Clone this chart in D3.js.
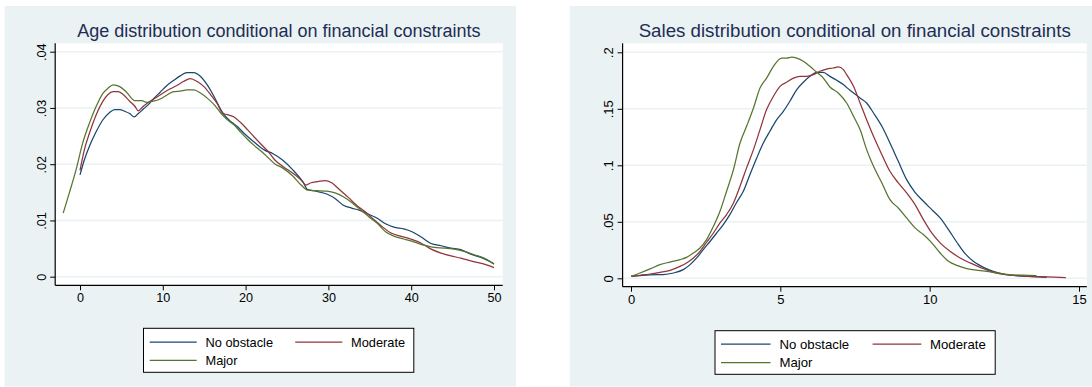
<!DOCTYPE html>
<html>
<head>
<meta charset="utf-8">
<script src="https://cdn.jsdelivr.net/npm/d3@7/dist/d3.min.js"></script>
<style>
  body { margin: 0; background: #ffffff; }
  svg { display: block; }
  text { font-family: "Liberation Sans", Arial, Helvetica, sans-serif; }
</style>
</head>
<body>
<svg id="chart" width="1092" height="387"></svg>
<script>
// Series labels and colours (Stata s2color: navy, maroon, forest green)
const seriesNames = ["No obstacle", "Moderate", "Major"];
const seriesColors = ["#1a476f", "#90353b", "#55752f"];

// Tick values
const ageTicksX = [0, 10, 20, 30, 40, 50];
const ageTicksY = [0, 0.01, 0.02, 0.03, 0.04];
const salesTicksX = [0, 5, 10, 15];
const salesTicksY = [0, 0.05, 0.1, 0.15, 0.2];

// Kernel density of firm age, by severity of financial obstacle: [age, density]
const ageNoObstacle = [[0,0.0181],[0.53,0.0208],[1.14,0.0232],[1.96,0.0258],[2.77,0.0279],[3.58,0.0292],[4.19,0.0297],[4.8,0.0297],[5.41,0.0294],[6.0,0.0290],[6.55,0.0284],[7.04,0.0290],[7.65,0.0298],[8.26,0.0306],[8.86,0.0316],[9.68,0.0328],[10.5,0.0340],[11.3,0.0349],[12.1,0.0357],[12.93,0.0363],[13.74,0.0363],[14.56,0.0356],[15.37,0.0341],[16.2,0.0320],[17.0,0.0297],[17.4,0.0288],[18.2,0.0276],[19.0,0.0267],[19.8,0.0255],[21.06,0.0239],[22.3,0.0225],[23.26,0.0219],[24.5,0.0207],[25.7,0.0190],[26.9,0.0169],[27.5,0.0155],[28.5,0.0152],[29.8,0.0147],[30.8,0.0139],[31.8,0.0127],[32.8,0.0122],[33.8,0.0118],[34.85,0.0111],[35.9,0.0104],[36.9,0.0094],[37.9,0.0088],[39.1,0.0085],[40.1,0.0080],[41.15,0.0071],[42.4,0.0059],[43.6,0.0055],[44.8,0.0051],[46.0,0.0048],[47.2,0.0040],[48.5,0.0034],[49.1,0.0030],[50,0.0023]];
const ageModerate = [[0,0.0189],[0.53,0.0226],[1.14,0.0255],[1.96,0.0288],[2.77,0.0312],[3.38,0.0324],[3.99,0.0329],[4.6,0.0329],[5.2,0.0324],[6.0,0.0312],[6.63,0.0303],[7.04,0.0295],[7.65,0.0303],[8.46,0.0312],[9.27,0.0319],[10.08,0.0327],[10.9,0.0334],[11.7,0.0340],[12.5,0.0347],[13.3,0.0352],[14.15,0.0347],[14.97,0.0338],[15.8,0.0323],[16.6,0.0307],[17.2,0.0291],[17.8,0.0288],[18.6,0.0284],[19.4,0.0274],[20.25,0.0261],[21.06,0.0248],[21.9,0.0235],[22.7,0.0223],[23.5,0.0208],[24.5,0.0196],[25.7,0.0184],[26.7,0.0172],[27.3,0.0163],[27.9,0.0167],[28.7,0.0169],[29.6,0.0171],[30.4,0.0167],[31.4,0.0154],[32.4,0.0141],[33.4,0.0127],[34.4,0.0116],[35.45,0.0102],[36.5,0.0089],[37.5,0.0078],[38.7,0.0072],[39.9,0.0067],[41.15,0.0060],[42.4,0.0049],[43.6,0.0042],[44.8,0.0037],[46.0,0.0033],[47.2,0.0028],[49.1,0.0021],[50,0.0016]];
const ageMajor = [[-2.03,0.0113],[-1.29,0.0149],[-0.48,0.0190],[0.33,0.0238],[1.14,0.0273],[1.96,0.0303],[2.77,0.0326],[3.38,0.0335],[3.99,0.0341],[4.8,0.0338],[5.62,0.0328],[6.63,0.0313],[7.44,0.0313],[8.05,0.0310],[8.86,0.0312],[9.68,0.0316],[10.5,0.0323],[11.3,0.0329],[12.1,0.0330],[12.93,0.0332],[13.74,0.0332],[14.6,0.0326],[15.4,0.0317],[16.2,0.0306],[17.0,0.0291],[17.8,0.0279],[18.6,0.0270],[19.4,0.0257],[20.25,0.0244],[21.06,0.0233],[21.9,0.0223],[22.7,0.0212],[23.5,0.0201],[24.5,0.0193],[25.7,0.0179],[26.7,0.0163],[27.5,0.0154],[28.5,0.0153],[29.8,0.0152],[30.8,0.0149],[31.8,0.0142],[32.8,0.0132],[33.8,0.0120],[34.85,0.0107],[35.9,0.0095],[36.9,0.0080],[37.9,0.0072],[39.1,0.0067],[40.3,0.0062],[41.55,0.0056],[42.8,0.0052],[44.0,0.0051],[45.2,0.0049],[46.4,0.0045],[47.6,0.0039],[49.1,0.0031],[50,0.0022]];

// Kernel density of log sales, by severity of financial obstacle: [log sales, density]
const salesNoObstacle = [[0,0.0018],[0.3,0.0024],[0.64,0.0030],[1.08,0.0033],[1.42,0.0047],[1.75,0.0077],[1.98,0.0121],[2.2,0.0180],[2.42,0.0254],[2.65,0.0328],[2.87,0.0401],[3.09,0.0475],[3.31,0.0564],[3.54,0.0673],[3.76,0.0770],[3.98,0.0917],[4.21,0.1065],[4.43,0.1197],[4.65,0.1301],[4.88,0.1404],[5.1,0.1478],[5.32,0.1567],[5.55,0.1670],[5.77,0.1735],[5.99,0.1787],[6.22,0.1823],[6.44,0.1823],[6.66,0.1787],[6.89,0.1752],[7.11,0.1714],[7.33,0.1664],[7.45,0.1640],[7.67,0.1596],[7.89,0.1551],[8.12,0.1463],[8.4,0.1345],[8.67,0.1197],[8.95,0.1035],[9.23,0.0873],[9.51,0.0761],[9.79,0.0682],[10.07,0.0608],[10.35,0.0534],[10.63,0.0431],[10.91,0.0319],[11.19,0.0218],[11.46,0.0150],[11.8,0.0097],[12.13,0.0062],[12.47,0.0038],[12.92,0.0024],[13.47,0.0015],[13.92,0.0009]];
const salesModerate = [[0,0.0018],[0.3,0.0027],[0.64,0.0038],[0.97,0.0053],[1.31,0.0071],[1.64,0.0106],[1.86,0.0136],[2.09,0.0180],[2.31,0.0239],[2.53,0.0319],[2.76,0.0401],[2.98,0.0490],[3.2,0.0564],[3.43,0.0667],[3.65,0.0815],[3.87,0.0977],[4.1,0.1139],[4.32,0.1316],[4.54,0.1493],[4.77,0.1611],[4.99,0.1699],[5.21,0.1735],[5.44,0.1772],[5.66,0.1787],[5.88,0.1787],[6.1,0.1802],[6.32,0.1832],[6.55,0.1852],[6.77,0.1861],[6.94,0.1870],[7.11,0.1847],[7.22,0.1802],[7.45,0.1699],[7.67,0.1551],[7.89,0.1404],[8.12,0.1257],[8.4,0.1094],[8.67,0.0947],[8.95,0.0844],[9.23,0.0755],[9.51,0.0652],[9.79,0.0519],[10.07,0.0401],[10.35,0.0313],[10.68,0.0239],[11.02,0.0180],[11.35,0.0136],[11.69,0.0097],[12.02,0.0062],[12.36,0.0038],[12.69,0.0027],[13.25,0.0018],[13.92,0.0012],[14.56,0.0006]];
const salesMajor = [[0,0.0018],[0.3,0.0047],[0.64,0.0083],[0.97,0.0121],[1.31,0.0144],[1.64,0.0165],[1.86,0.0185],[2.09,0.0224],[2.31,0.0268],[2.53,0.0342],[2.76,0.0460],[2.98,0.0593],[3.2,0.0770],[3.43,0.0961],[3.65,0.1197],[3.87,0.1345],[4.1,0.1507],[4.32,0.1684],[4.54,0.1772],[4.77,0.1876],[5.04,0.1949],[5.21,0.1949],[5.38,0.1958],[5.55,0.1949],[5.77,0.1920],[5.99,0.1876],[6.22,0.1823],[6.44,0.1772],[6.66,0.1693],[6.94,0.1640],[7.22,0.1551],[7.45,0.1434],[7.67,0.1316],[7.89,0.1139],[8.12,0.0991],[8.4,0.0844],[8.67,0.0696],[8.95,0.0622],[9.23,0.0534],[9.51,0.0446],[9.79,0.0387],[10.07,0.0313],[10.35,0.0224],[10.63,0.0150],[10.91,0.0115],[11.24,0.0086],[11.69,0.0068],[12.13,0.0053],[12.58,0.0035],[13.14,0.0027],[13.58,0.0024]];

// Panel layouts
const panels = [
  {
    title: "Age distribution conditional on financial constraints",
    series: [ageNoObstacle, ageModerate, ageMajor],
    ticksX: ageTicksX, ticksY: ageTicksY,
    domainX: [0, 50], domainY: [0, 0.04],
    rangeX: [80, 494], rangeY: [276.7, 51.7],
    bg: [4.6, 6, 516, 386.5],
    plot: [55.2, 43.3, 502.7, 285.3],
    titleSize: 18, titleY: 36.5,
    tickSize: 12.6, yLabelX: 41.7, xLabelY: 298.5,
    legend: { box: [143.5, 328.3, 413.8, 372.3], keys: [[149.7, 196.7], [295.2, 342.3]], textX: [205.5, 351], rows: [342, 360.3], size: 12.8 }
  },
  {
    title: "Sales distribution conditional on financial constraints",
    series: [salesNoObstacle, salesModerate, salesMajor],
    ticksX: salesTicksX, ticksY: salesTicksY,
    domainX: [0, 15], domainY: [0, 0.2],
    rangeX: [631, 1079], rangeY: [278.3, 52.3],
    bg: [569.7, 6, 1092, 386.5],
    plot: [622.6, 43.3, 1086.8, 286.7],
    titleSize: 18.7, titleY: 36.5,
    tickSize: 13, yLabelX: 608.7, xLabelY: 300,
    legend: { box: [715, 330.7, 995.2, 374.3], keys: [[721, 770.5], [872.6, 921.3]], textX: [779.5, 930], rows: [344, 362.7], size: 13.2 }
  }
];

const svg = d3.select("#chart");
const gridColor = "#eaf2f3";
const tickFormat = d => d === 0 ? "0" : String(d).replace(/^0/, "");

panels.forEach(p => {
  const g = svg.append("g");
  const x = d3.scaleLinear().domain(p.domainX).range(p.rangeX);
  const y = d3.scaleLinear().domain(p.domainY).range(p.rangeY);
  const [px0, py0, px1, py1] = p.plot;

  // Graph background and plot region
  g.append("rect").attr("x", p.bg[0]).attr("y", p.bg[1])
    .attr("width", p.bg[2] - p.bg[0]).attr("height", p.bg[3] - p.bg[1])
    .attr("fill", gridColor);
  g.append("rect").attr("x", px0).attr("y", py0)
    .attr("width", px1 - px0).attr("height", py1 - py0).attr("fill", "#ffffff");

  // Horizontal grid lines
  g.selectAll(".grid").data(p.ticksY).join("line")
    .attr("x1", px0).attr("x2", px1)
    .attr("y1", d => y(d)).attr("y2", d => y(d))
    .attr("stroke", gridColor).attr("stroke-width", 1.6);

  // Title
  g.append("text").attr("x", (px0 + px1) / 2).attr("y", p.titleY)
    .attr("text-anchor", "middle").attr("font-size", p.titleSize)
    .attr("fill", "#1e2d55").text(p.title);

  // Density curves
  const line = d3.line().x(d => x(d[0])).y(d => y(d[1])).curve(d3.curveMonotoneX);
  p.series.forEach((s, i) => {
    g.append("path").datum(s).attr("d", line)
      .attr("fill", "none").attr("stroke", seriesColors[i])
      .attr("stroke-width", 1.25).attr("stroke-linejoin", "round");
  });

  // Y axis: line, ticks and rotated labels
  const yAxis = g.append("g").attr("transform", `translate(${px0},0)`)
    .call(d3.axisLeft(y).tickValues(p.ticksY).tickSize(5).tickPadding(4).tickFormat(tickFormat));
  yAxis.select(".domain").attr("d", `M0,${py0}V${py1}`).attr("stroke", "#000").attr("stroke-width", 1.2);
  yAxis.selectAll(".tick line").attr("stroke", "#000").attr("stroke-width", 1);
  yAxis.selectAll(".tick text")
    .attr("x", null).attr("dy", null)
    .attr("text-anchor", "middle").attr("dominant-baseline", "central")
    .attr("font-size", p.tickSize).attr("font-family", null).attr("fill", "#000")
    .attr("transform", `translate(${p.yLabelX - px0},0) rotate(-90)`);

  // X axis
  const xAxis = g.append("g").attr("transform", `translate(0,${py1})`)
    .call(d3.axisBottom(x).tickValues(p.ticksX).tickSize(5).tickFormat(d3.format("d")));
  xAxis.select(".domain").attr("d", `M${px0},0H${px1}`).attr("stroke", "#000").attr("stroke-width", 1.2);
  xAxis.selectAll(".tick line").attr("stroke", "#000").attr("stroke-width", 1);
  xAxis.selectAll(".tick text")
    .attr("y", p.xLabelY - py1).attr("dy", null).attr("dominant-baseline", "central")
    .attr("font-size", p.tickSize).attr("font-family", null).attr("fill", "#000");

  // Legend
  const L = p.legend;
  const lg = g.append("g");
  lg.append("rect").attr("x", L.box[0]).attr("y", L.box[1])
    .attr("width", L.box[2] - L.box[0]).attr("height", L.box[3] - L.box[1])
    .attr("fill", "#fff").attr("stroke", "#000").attr("stroke-width", 1);
  seriesNames.forEach((name, i) => {
    const col = i % 2, row = Math.floor(i / 2);
    const yy = L.rows[row];
    lg.append("line").attr("x1", L.keys[col][0]).attr("x2", L.keys[col][1])
      .attr("y1", yy).attr("y2", yy).attr("stroke", seriesColors[i]).attr("stroke-width", 1.25);
    lg.append("text").attr("x", L.textX[col]).attr("y", yy)
      .attr("dominant-baseline", "central").attr("font-size", L.size)
      .attr("fill", "#000").text(name);
  });
});
</script>
</body>
</html>
